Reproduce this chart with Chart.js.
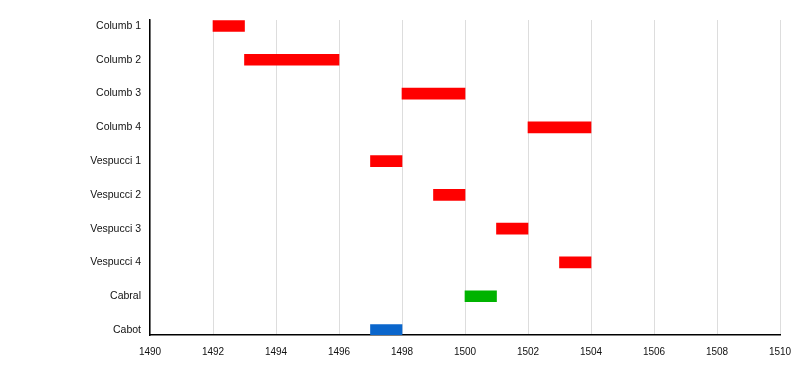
<!DOCTYPE html>
<html>
<head>
<meta charset="utf-8">
<script src="https://cdn.jsdelivr.net/npm/chart.js@4/dist/chart.umd.min.js"></script>
<style>
  html, body { margin: 0; padding: 0; background: #fff; }
  #wrap { width: 800px; height: 365px; }
</style>
</head>
<body>
<div id="wrap"><canvas id="c" width="800" height="365"></canvas></div>
<script>
const categories = ["Columb 1", "Columb 2", "Columb 3", "Columb 4", "Vespucci 1", "Vespucci 2", "Vespucci 3", "Vespucci 4", "Cabral", "Cabot"];
const startYears = [1492, 1493, 1498, 1502, 1497, 1499, 1501, 1503, 1500, 1497];
const endYears   = [1493, 1496, 1500, 1504, 1498, 1500, 1502, 1504, 1501, 1498];
const barColors  = ["#ff0000", "#ff0000", "#ff0000", "#ff0000", "#ff0000", "#ff0000", "#ff0000", "#ff0000", "#00b300", "#0a66cc"];
const xTicks = [1490, 1492, 1494, 1496, 1498, 1500, 1502, 1504, 1506, 1508, 1510];

const data = categories.map((c, i) => ({ y: i, x: [startYears[i], endYears[i]] }));

new Chart(document.getElementById('c'), {
  type: 'bar',
  data: {
    datasets: [{
      data: data,
      backgroundColor: barColors,
      borderWidth: 0,
      barThickness: 11
    }]
  },
  options: {
    indexAxis: 'y',
    responsive: false,
    animation: false,
    layout: { padding: { left: 0, right: 20, top: 20, bottom: 0 } },
    plugins: { legend: { display: false }, tooltip: { enabled: false } },
    scales: {
      x: {
        type: 'linear',
        min: xTicks[0],
        max: xTicks[xTicks.length - 1],
        afterBuildTicks: (s) => { s.ticks = xTicks.map(v => ({ value: v })); },
        afterFit: (s) => { s.height = 30; s.paddingLeft = 0; s.paddingRight = 0; },
        grid: { color: '#dddddd', drawTicks: false, lineWidth: 1 },
        border: { color: '#000', width: 1.5 },
        ticks: {
          padding: 11,
          color: '#111',
          font: { family: 'Liberation Sans, Arial, sans-serif', size: 10 },
          callback: (v) => String(v),
          maxRotation: 0
        }
      },
      y: {
        type: 'linear',
        reverse: true,
        offset: false,
        min: -0.178,
        max: 9.148,
        afterBuildTicks: (s) => { s.ticks = categories.map((c, i) => ({ value: i })); },
        afterFit: (s) => { s.width = 150; },
        grid: { display: false, drawTicks: false, offset: false },
        border: { color: '#000', width: 1.5 },
        ticks: {
          padding: 9,
          color: '#111',
          font: { family: 'Liberation Sans, Arial, sans-serif', size: 10.5 },
          callback: (v) => categories[v] !== undefined ? categories[v] : ''
        }
      }
    }
  }
});
</script>
</body>
</html>
